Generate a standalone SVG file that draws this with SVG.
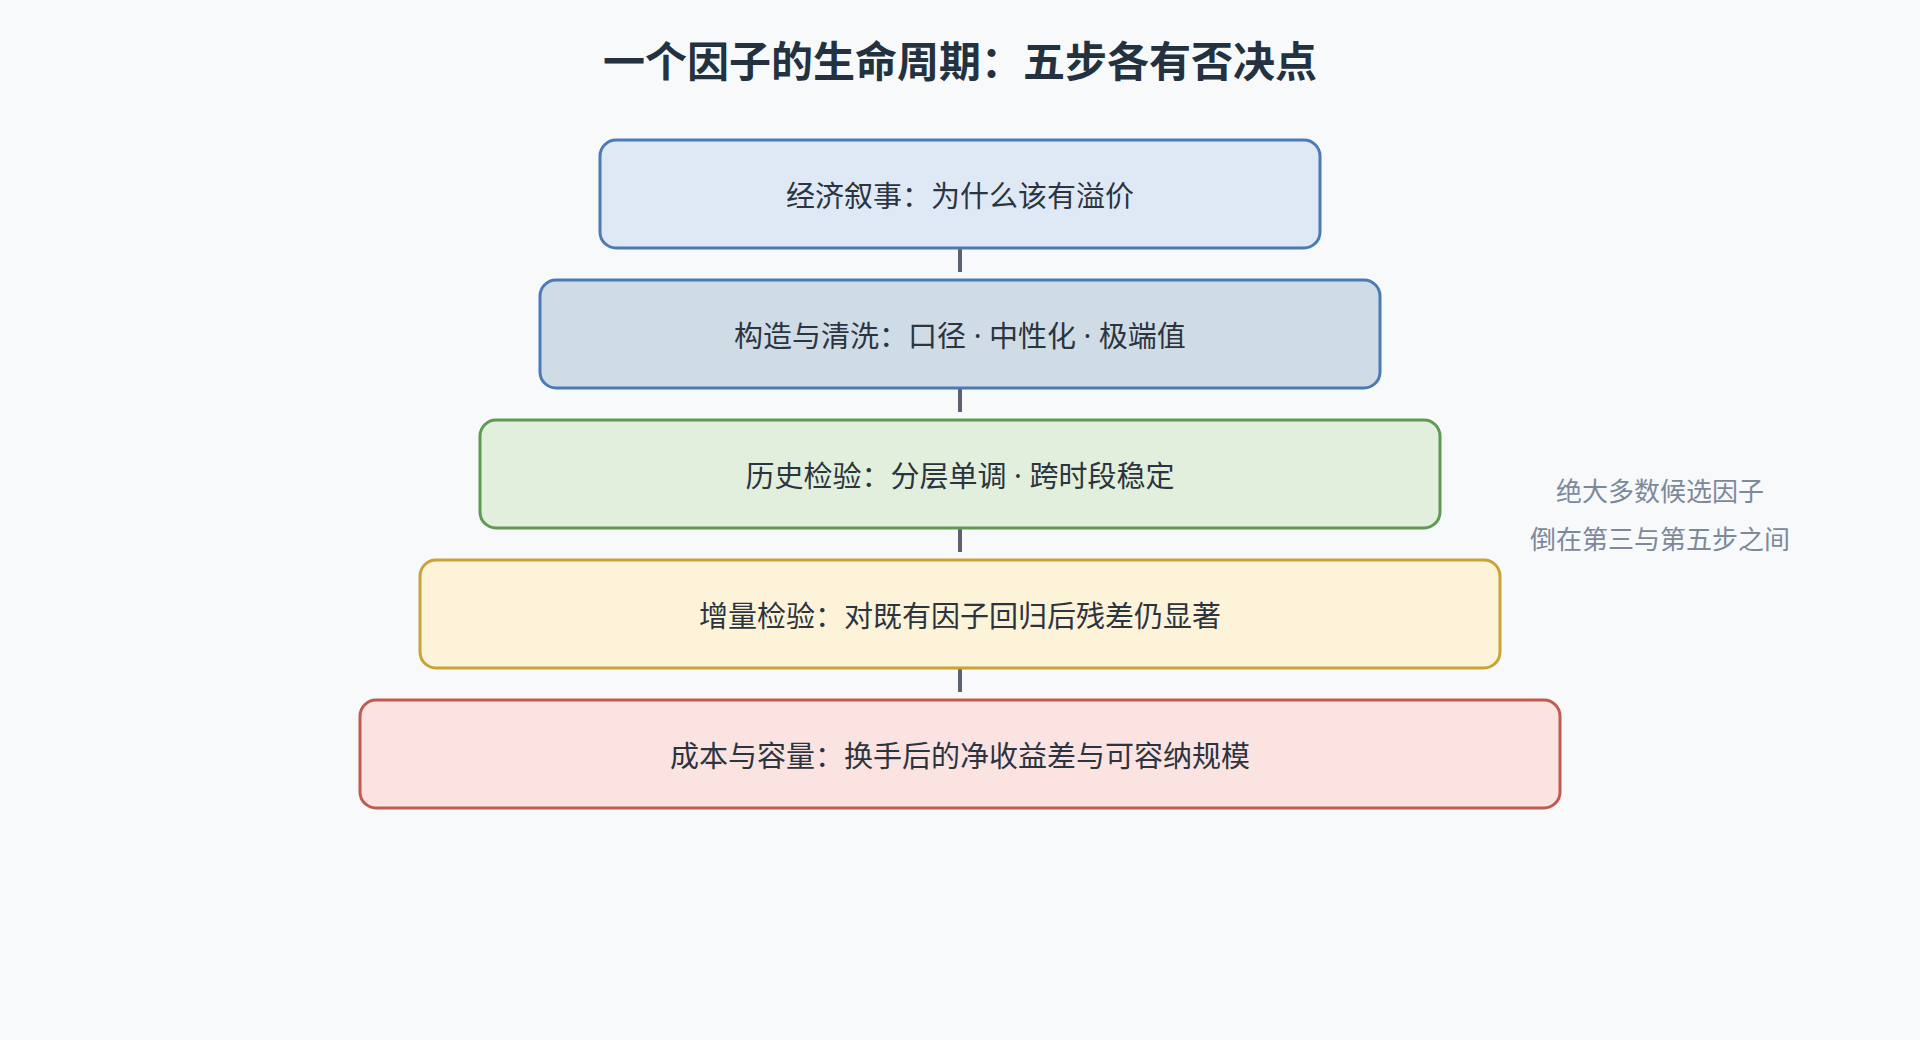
<svg xmlns="http://www.w3.org/2000/svg" width="1920" height="1040" viewBox="0 0 1920 1040">
<style>
text{font-family:"Noto Sans CJK SC","Noto Sans",sans-serif;}
.title{font-size:42px;font-weight:700;fill:#243240;text-anchor:middle;}
.lbl{font-size:29px;fill:#2c3440;text-anchor:middle;dominant-baseline:central;}
.sep{font-family:"Noto Sans","Liberation Sans",sans-serif;}
.note{font-size:26px;fill:#7d899b;text-anchor:middle;dominant-baseline:central;}
.box{stroke-width:3;}
.conn{stroke:#5a6272;stroke-width:4;fill:none;}
</style>
<rect x="0" y="0" width="1920" height="1040" fill="#f7f9fb"/>
<text class="title" x="960" y="77">一个因子的生命周期：五步各有否决点</text>
<g id="connectors">
<line class="conn" x1="960" y1="248" x2="960" y2="272"/>
<line class="conn" x1="960" y1="388" x2="960" y2="412"/>
<line class="conn" x1="960" y1="528" x2="960" y2="552"/>
<line class="conn" x1="960" y1="668" x2="960" y2="692"/>
</g>
<g id="step1">
<rect class="box" x="600" y="140" width="720" height="108" rx="16" fill="#dfe9f5" stroke="#4a7bb5"/>
<text class="lbl" x="960" y="194">经济叙事：为什么该有溢价</text>
</g>
<g id="step2">
<rect class="box" x="540" y="280" width="840" height="108" rx="16" fill="#cfdce6" stroke="#4a7bb5"/>
<text class="lbl" x="960" y="334">构造与清洗：口径<tspan class="sep"> · </tspan>中性化<tspan class="sep"> · </tspan>极端值</text>
</g>
<g id="step3">
<rect class="box" x="480" y="420" width="960" height="108" rx="16" fill="#e1efdc" stroke="#5e9a52"/>
<text class="lbl" x="960" y="474">历史检验：分层单调<tspan class="sep"> · </tspan>跨时段稳定</text>
</g>
<g id="step4">
<rect class="box" x="420" y="560" width="1080" height="108" rx="16" fill="#fcf3d9" stroke="#c9a238"/>
<text class="lbl" x="960" y="614">增量检验：对既有因子回归后残差仍显著</text>
</g>
<g id="step5">
<rect class="box" x="360" y="700" width="1200" height="108" rx="16" fill="#fae3e0" stroke="#c25a50"/>
<text class="lbl" x="960" y="754">成本与容量：换手后的净收益差与可容纳规模</text>
</g>
<g id="note">
<text class="note" x="1660" y="489">绝大多数候选因子</text>
<text class="note" x="1660" y="537">倒在第三与第五步之间</text>
</g>
</svg>
